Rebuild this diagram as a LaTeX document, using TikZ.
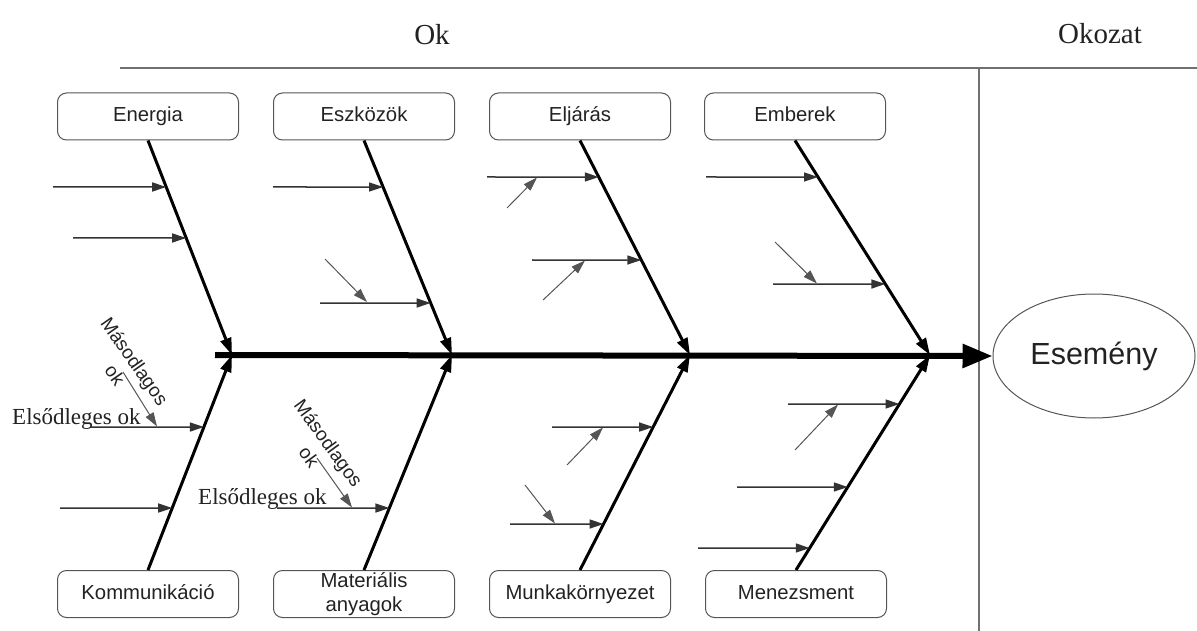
\documentclass[tikz,border=0pt]{standalone}
\usepackage{fontspec}
\setmainfont{Liberation Serif}
\setsansfont{Liberation Sans}
\usetikzlibrary{arrows.meta,shapes.geometric}
\definecolor{txt}{HTML}{222222}
\definecolor{boxgray}{HTML}{555555}
\definecolor{framegray}{HTML}{707070}
\definecolor{primcol}{HTML}{333333}
\definecolor{seccol}{HTML}{555555}
\newcommand\primcause[4]{\draw[primarrow] (#3,#4) -- (intersection of #1--#2 and #3,#4--1500,#4);}
\begin{document}
\begin{tikzpicture}[x=1pt,y=-1pt,
  box/.style={draw=boxgray, line width=1pt, rounded corners=9pt, minimum width=181pt,
    minimum height=47pt, inner sep=0pt, align=center, text=txt,
    font=\sffamily\fontsize{20.3}{23.5}\selectfont},
  onebox/.style={box, text height=14.5pt, text depth=4pt},
  evt/.style={draw=boxgray, line width=1pt, ellipse, minimum width=202pt, minimum height=124pt,
    inner sep=0pt, text=txt, font=\sffamily\fontsize{30.5}{35}\selectfont},
  head/.style={text=txt, font=\rmfamily\fontsize{29}{34}\selectfont, inner sep=0pt},
  serlabel/.style={text=txt, font=\rmfamily\fontsize{23}{27}\selectfont, inner sep=0pt},
  rotlabel/.style={text=txt, align=center, inner sep=0pt, font=\sffamily\fontsize{19}{24}\selectfont},
  frame/.style={draw=framegray, line width=1.2pt},
  spine/.style={line width=6pt, -{Triangle[length=30pt,width=23pt]}},
  bone/.style={line width=3pt, -{Triangle[length=17pt,width=11pt]}},
  primarrow/.style={draw=primcol, line width=1.5pt, -{Triangle[length=14pt,width=9pt]}},
  secarrow/.style={draw=seccol, line width=1pt, -{Triangle[length=14pt,width=9pt]}}]
\useasboundingbox (0,0) rectangle (1197,631);

% frame
\coordinate (tl) at (120,68);
\coordinate (tr) at (1197,68);
\coordinate (vt) at (979,68);
\coordinate (vb) at (979,631);
\draw[frame] (tl) -- (tr);
\draw[frame] (vt) -- (vb);

\node[head] (ok) at (432,35) {Ok};
\node[head] (okozat) at (1100,34) {Okozat};

% boxes
\node[onebox] (energia) at (148,116.5) {Energia};
\node[onebox] (eszkozok) at (364,116.5) {Eszközök};
\node[onebox] (eljaras) at (580,116.5) {Eljárás};
\node[onebox] (emberek) at (795,116.5) {Emberek};
\node[onebox] (komm) at (148,594) {Kommunikáció};
\node[box] (mat) at (364,594) {Materiális\\anyagok};
\node[onebox] (munka) at (580,594) {Munkakörnyezet};
\node[onebox] (menez) at (796,594) {Menezsment};

\node[evt] (event) at (1094,356) {Esemény};

% spine
\coordinate (sp) at (215,355);
\coordinate (j1) at (232,355);
\coordinate (j2) at (452,355);
\coordinate (j3) at (690,355);
\coordinate (j4) at (930,355);
\draw[spine] (sp) -- (event.west);

% bones
\draw[bone] (energia.south) -- (j1);
\draw[bone] (eszkozok.south) -- (j2);
\draw[bone] (eljaras.south) -- (j3);
\draw[bone] (emberek.south) -- (j4);
\draw[bone] (komm.north) -- (j1);
\draw[bone] (mat.north) -- (j2);
\draw[bone] (munka.north) -- (j3);
\draw[bone] (menez.north) -- (j4);

% primary causes
\primcause{energia.south}{j1}{53}{187}
\primcause{energia.south}{j1}{73}{238}
\primcause{eszkozok.south}{j2}{273}{187}
\primcause{eszkozok.south}{j2}{320}{303}
\primcause{eljaras.south}{j3}{487}{177}
\primcause{eljaras.south}{j3}{532}{260}
\primcause{emberek.south}{j4}{706}{177}
\primcause{emberek.south}{j4}{773}{284}
\primcause{komm.north}{j1}{90}{427}
\primcause{komm.north}{j1}{60}{508}
\primcause{mat.north}{j2}{277}{508}
\primcause{munka.north}{j3}{552}{427}
\primcause{munka.north}{j3}{510}{524}
\primcause{menez.north}{j4}{788}{404}
\primcause{menez.north}{j4}{737}{487}
\primcause{menez.north}{j4}{698}{548}

% secondary causes
\draw[secarrow] (325,259) -- (367,302);
\draw[secarrow] (507,208) -- (537,177.5);
\draw[secarrow] (543,300) -- (585,260.5);
\draw[secarrow] (775,242) -- (817,283.5);
\draw[secarrow] (123,372) -- (157,426.5);
\draw[secarrow] (317,458) -- (352,507.5);
\draw[secarrow] (567,465) -- (603,427.5);
\draw[secarrow] (525,485) -- (555,523.5);
\draw[secarrow] (795,450) -- (838,404.5);

% labels
\node[rotlabel, rotate=-55] (mas1) at (125,368) {Másodlagos\\ok};
\node[rotlabel, rotate=-54] (mas2) at (319,450) {Másodlagos\\ok};
\node[serlabel, anchor=base west] (els1) at (12,424) {Elsődleges ok};
\node[serlabel, anchor=base west] (els2) at (198,504) {Elsődleges ok};
\end{tikzpicture}
\end{document}
